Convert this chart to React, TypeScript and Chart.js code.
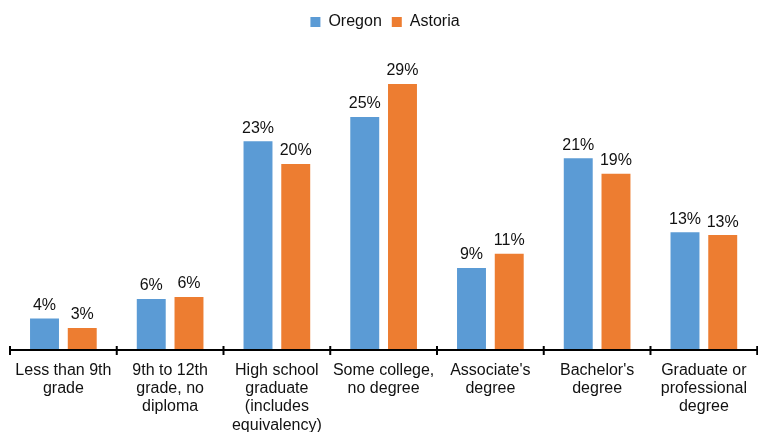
import React, { useEffect, useRef } from "react";
import { Chart, registerables } from "chart.js";

Chart.register(...registerables);

const categories: string[][] = [
  ["Less than 9th", "grade"],
  ["9th to 12th", "grade, no", "diploma"],
  ["High school", "graduate", "(includes", "equivalency)"],
  ["Some college,", "no degree"],
  ["Associate's", "degree"],
  ["Bachelor's", "degree"],
  ["Graduate or", "professional", "degree"],
];

const oregon = [4.0, 6.1, 22.9, 25.49, 9.4, 21.1, 13.2];
const astoria = [3.0, 6.3, 20.49, 29.0, 10.9, 19.45, 12.9];

const seriesNames = ["Oregon", "Astoria"];
const colors = ["#5B9BD5", "#ED7D31"];

const FONT = "'Liberation Sans', Arial, sans-serif";

const valueLabels = {
  id: "valueLabels",
  afterDatasetsDraw(chart: any) {
    const ctx = chart.ctx;
    ctx.save();
    ctx.font = `16px ${FONT}`;
    ctx.fillStyle = "#111";
    ctx.textAlign = "center";
    ctx.textBaseline = "bottom";
    chart.data.datasets.forEach((ds: any, di: number) => {
      const meta = chart.getDatasetMeta(di);
      meta.data.forEach((el: any, i: number) => {
        const v = ds.data[i];
        ctx.fillText(Math.round(v) + "%", el.x, el.y - 5);
      });
    });
    ctx.restore();
  },
};

const axisPlugin = {
  id: "axisPlugin",
  afterDraw(chart: any) {
    const ctx = chart.ctx;
    const area = chart.chartArea;
    const n = chart.data.labels.length;
    const w = (area.right - area.left) / n;
    ctx.save();
    ctx.strokeStyle = "#000";
    ctx.lineWidth = 2;
    ctx.beginPath();
    ctx.moveTo(area.left, area.bottom);
    ctx.lineTo(area.right + 2, area.bottom);
    ctx.stroke();
    for (let i = 0; i <= n; i++) {
      const x = area.left + i * w;
      ctx.beginPath();
      ctx.moveTo(x, area.bottom - 4);
      ctx.lineTo(x, area.bottom + 5);
      ctx.stroke();
    }
    ctx.restore();
  },
};

export default function App() {
  const ref = useRef<HTMLCanvasElement | null>(null);

  useEffect(() => {
    if (!ref.current) return;
    const chart = new Chart(ref.current, {
      type: "bar",
      data: {
        labels: categories,
        datasets: [
          {
            label: seriesNames[0],
            data: oregon,
            backgroundColor: colors[0],
            categoryPercentage: 0.707,
            barPercentage: 0.767,
          },
          {
            label: seriesNames[1],
            data: astoria,
            backgroundColor: colors[1],
            categoryPercentage: 0.707,
            barPercentage: 0.767,
          },
        ],
      },
      options: {
        responsive: false,
        animation: false,
        devicePixelRatio: 1,
        layout: { padding: { top: 4, left: 10, right: -2, bottom: 0 } },
        plugins: {
          legend: {
            display: true,
            position: "top",
            labels: {
              font: { family: FONT, size: 16 },
              color: "#111",
              boxWidth: 10,
              boxHeight: 10,
              padding: 10,
            },
          },
          tooltip: { enabled: false },
          title: { display: false },
        },
        scales: {
          x: {
            grid: { display: false, drawTicks: false },
            border: { display: false },
            ticks: {
              font: { family: FONT, size: 16, lineHeight: 1.15 },
              color: "#111",
              padding: 11,
              maxRotation: 0,
              autoSkip: false,
            },
            afterFit(scale: any) {
              scale.height = 82;
            },
          },
          y: {
            display: false,
            min: 0.65,
            max: 33.7,
          },
        },
      },
      plugins: [valueLabels, axisPlugin],
    } as any);
    return () => chart.destroy();
  }, []);

  return (
    <div style={{ position: "fixed", left: 0, top: 0, width: 758, height: 432, background: "#fff" }}>
      <canvas ref={ref} width={758} height={432} style={{ display: "block" }} />
    </div>
  );
}
